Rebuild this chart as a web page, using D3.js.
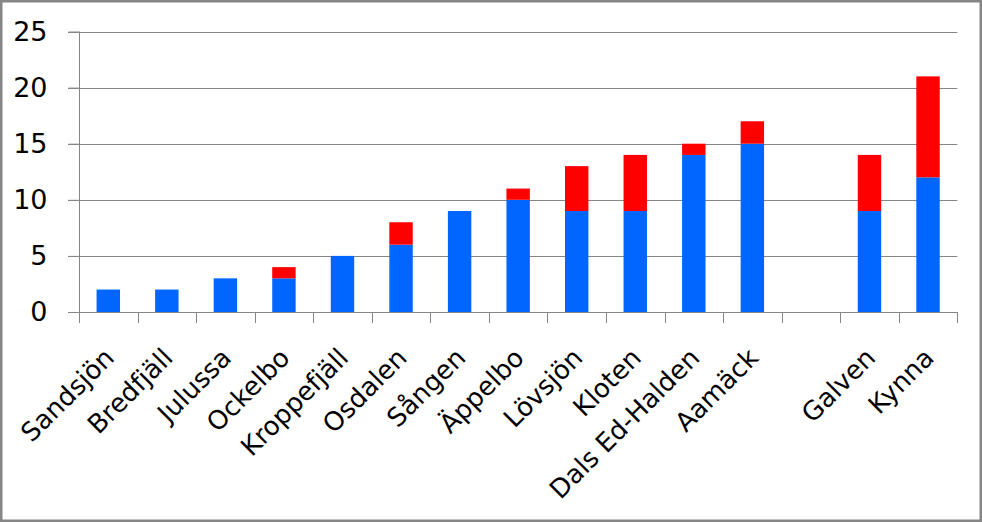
<!DOCTYPE html>
<html>
<head>
<meta charset="utf-8">
<script src="https://cdn.jsdelivr.net/npm/d3@7"></script>
<style>
  html, body { margin: 0; padding: 0; background: #fff; }
  svg { display: block; }
  text { font-family: "DejaVu Sans", sans-serif; fill: #000; }
</style>
</head>
<body>
<svg id="chart" width="982" height="522"></svg>
<script>
const categories = ["Sandsjön", "Bredfjäll", "Julussa", "Ockelbo", "Kroppefjäll", "Osdalen", "Sången", "Äppelbo", "Lövsjön", "Kloten", "Dals Ed-Halden", "Aamäck", "", "Galven", "Kynna"];
const blueValues = [2, 2, 3, 3, 5, 6, 9, 10, 9, 9, 14, 15, 0, 9, 12];
const redValues  = [0, 0, 0, 1, 0, 2, 0, 1, 4, 5, 1, 2, 0, 5, 9];
const yTicks = [0, 5, 10, 15, 20, 25];

const svg = d3.select("#chart");
const W = 982, H = 522;

svg.append("rect").attr("x", 0).attr("y", 0).attr("width", W).attr("height", H).attr("fill", "#fff");

const x = d3.scaleBand().domain(d3.range(categories.length)).range([79, 957.3]).paddingInner(0.6).paddingOuter(0.3);
const y = d3.scaleLinear().domain([0, 25]).range([312, 31.5]);

const gridColor = "#868686";

// gridlines
svg.append("g").selectAll("line").data(yTicks.filter(t => t > 0)).join("line")
  .attr("x1", 68).attr("x2", 957.3)
  .attr("y1", d => Math.round(y(d)) + 0.5).attr("y2", d => Math.round(y(d)) + 0.5)
  .attr("stroke", gridColor).attr("stroke-width", 1);

// stacked data
const rows = categories.map((c, i) => ({i, blue: blueValues[i], red: redValues[i]}));
const stack = d3.stack().keys(["blue", "red"])(rows);
const colors = {blue: "#0066FF", red: "#FF0000"};

svg.append("g").selectAll("g").data(stack).join("g")
  .attr("fill", s => colors[s.key])
  .selectAll("rect").data(s => s.filter(d => d[1] > d[0])).join("rect")
  .attr("x", d => x(d.data.i))
  .attr("width", x.bandwidth())
  .attr("y", d => y(d[1]))
  .attr("height", d => y(d[0]) - y(d[1]));

// y axis
const yAxis = d3.axisLeft(y).tickValues(yTicks).tickSize(11).tickPadding(21);
const gy = svg.append("g").attr("transform", "translate(79.5,0)").call(yAxis);
gy.select(".domain").attr("stroke", gridColor).attr("d", `M0,${y(25)}V${y(0)}`);
gy.selectAll(".tick line").attr("stroke", gridColor);
gy.selectAll(".tick text").attr("font-size", 27).attr("font-family", "'DejaVu Sans', sans-serif");

// x axis
const step = x.step();
const boundaries = d3.range(categories.length + 1).map(k => 79 + k * step);
const gx = svg.append("g");
gx.append("line").attr("x1", 68).attr("x2", 957.3).attr("y1", 312.5).attr("y2", 312.5).attr("stroke", gridColor);
gx.selectAll("line.tk").data(boundaries).join("line").attr("class", "tk")
  .attr("x1", d => Math.round(d) + 0.5).attr("x2", d => Math.round(d) + 0.5)
  .attr("y1", 312).attr("y2", 323).attr("stroke", gridColor);

const xAxis = d3.axisBottom(x).tickFormat(i => categories[i]).tickSize(0).tickPadding(0);
const gxl = svg.append("g").attr("transform", "translate(0,312)").call(xAxis);
gxl.select(".domain").remove();
gxl.selectAll(".tick text")
  .attr("font-size", 26)
  .attr("font-family", "'DejaVu Sans', sans-serif")
  .attr("text-anchor", "end")
  .attr("dy", "0.35em")
  .attr("transform", "translate(1,41) rotate(-45)")
  .attr("y", 0).attr("x", 0);

// border
svg.append("rect").attr("x", 1.25).attr("y", 1.25).attr("width", W - 2.5).attr("height", H - 2.5)
  .attr("fill", "none").attr("stroke", gridColor).attr("stroke-width", 2.5);
</script>
</body>
</html>
